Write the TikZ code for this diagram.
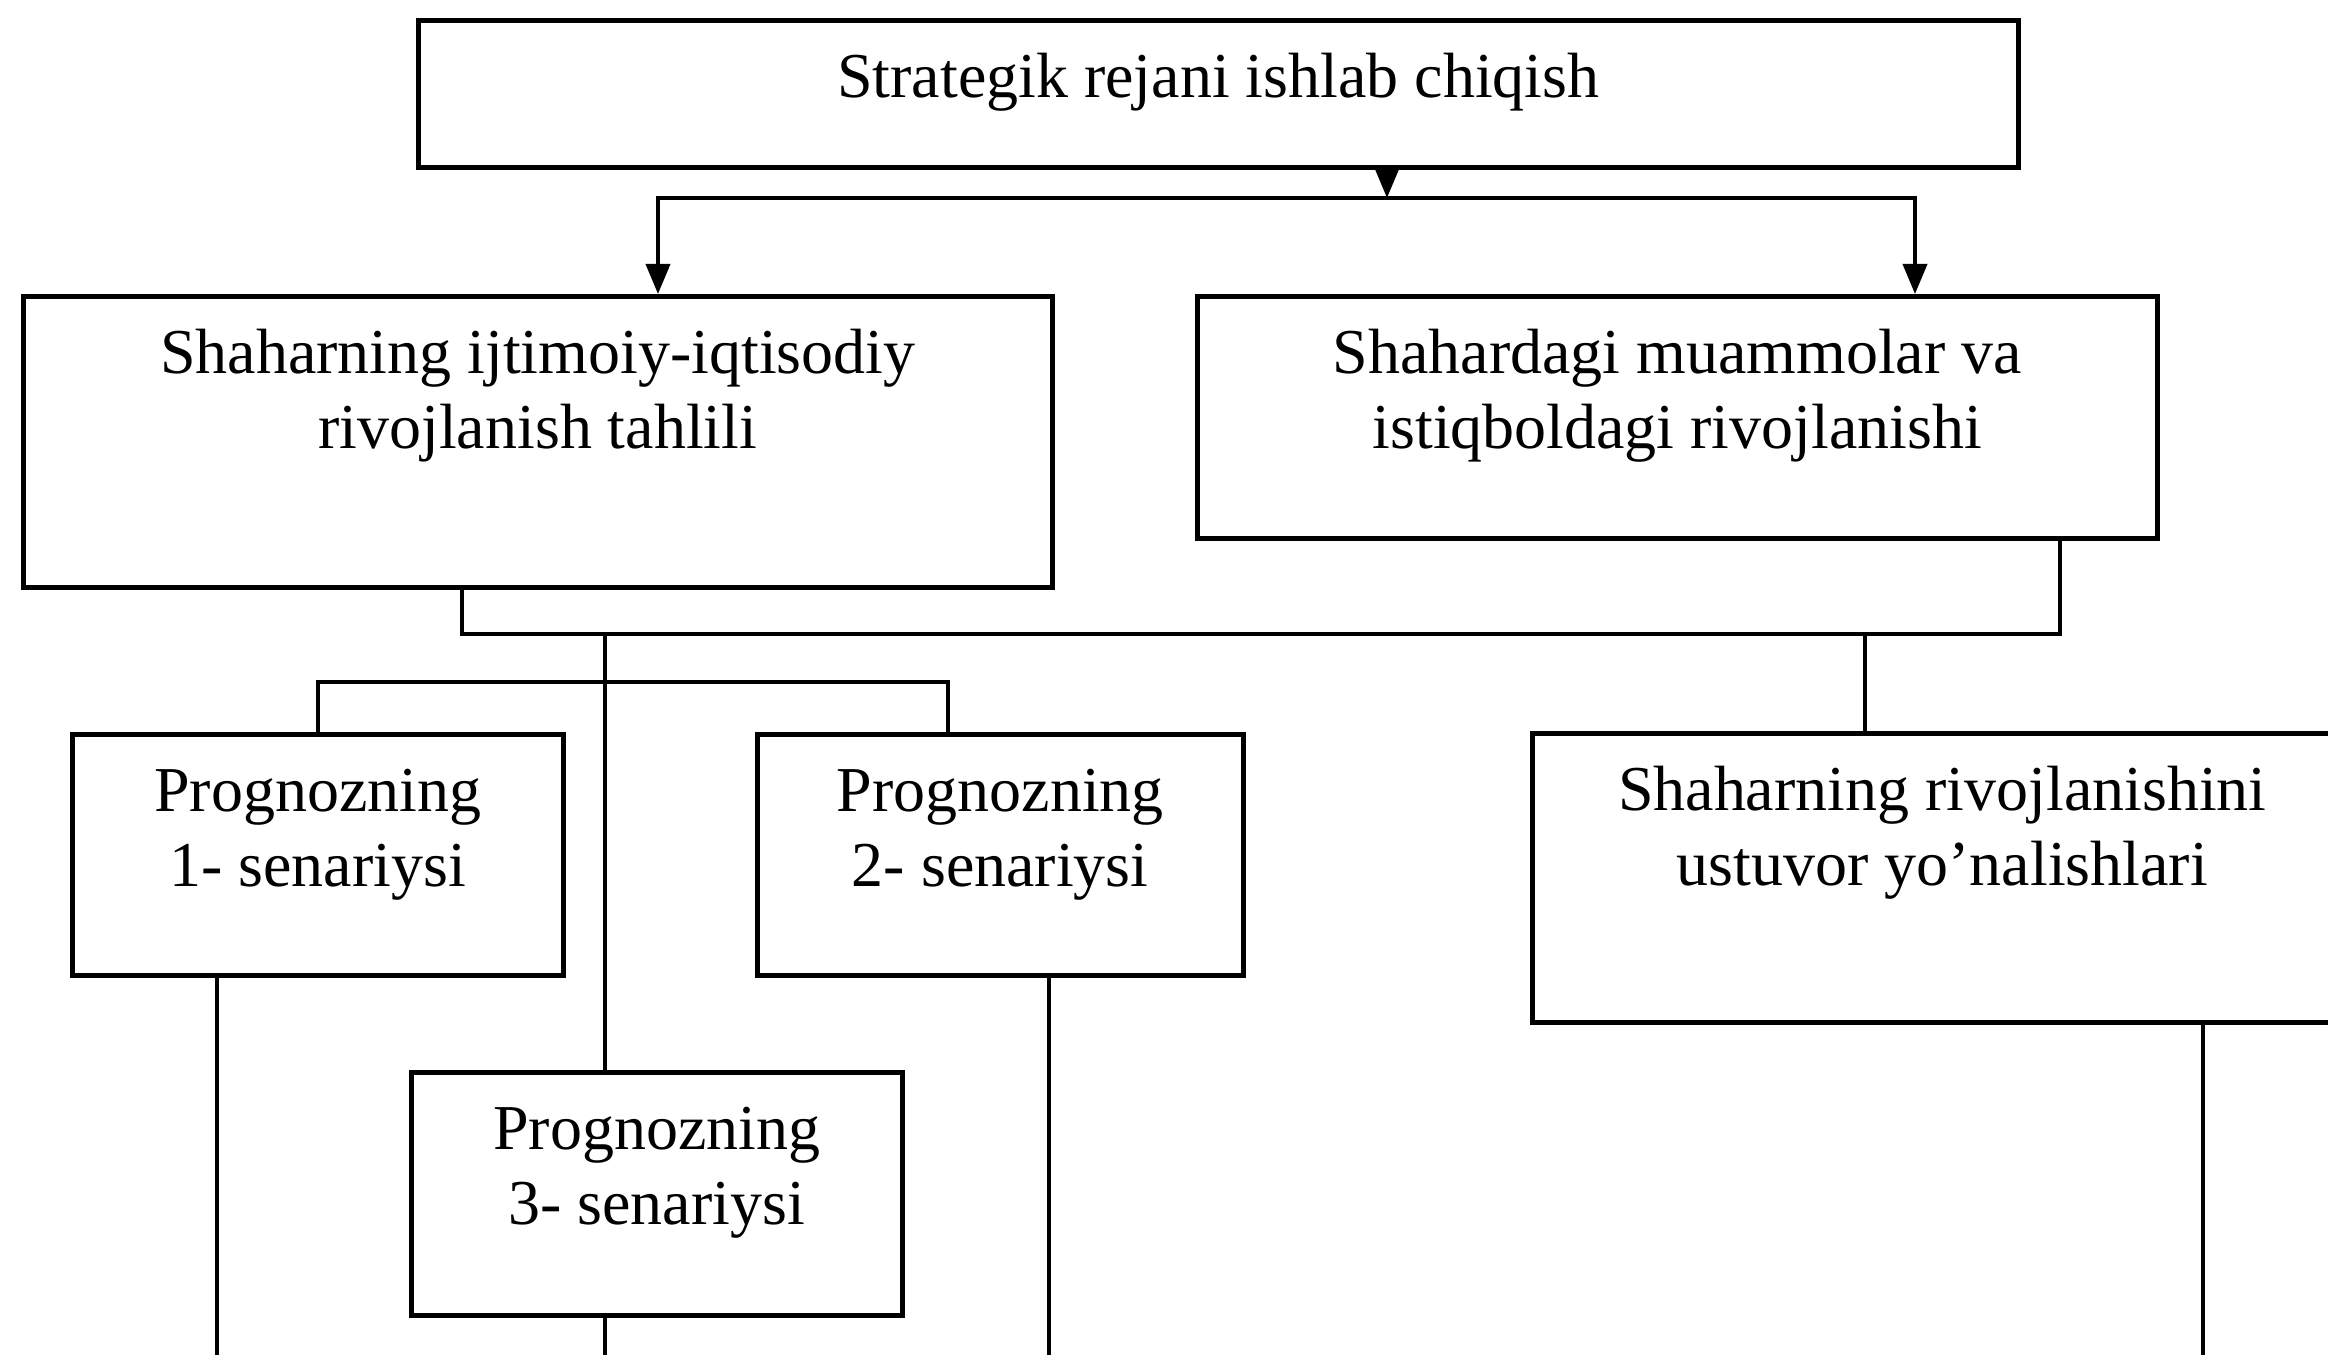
\documentclass[tikz,border=0pt]{standalone}
\usepackage{fontspec}
\setmainfont{Liberation Serif}
\usetikzlibrary{arrows.meta,positioning,calc}

\begin{document}
\begin{tikzpicture}[
    font=\fontsize{18.2}{21.3}\selectfont,
    box/.style={draw, line width=1.3pt, anchor=north west, inner sep=0pt},
    txt/.style={align=center, inner sep=0pt},
    line/.style={line width=1.1pt},
    arrow/.style={line width=1.1pt, -{Triangle[length=.3cm, width=.24cm]}}
  ]
    \clip (0,0) rectangle (23.28,-13.55);
    % boxes
    \node[box, minimum width=16cm, minimum height=1.47cm] (plan) at (4.16,-0.18) {};
    \node[box, minimum width=10.29cm, minimum height=2.91cm] (tahlil) at (0.21,-2.94) {};
    \node[box, minimum width=9.6cm, minimum height=2.42cm] (muammo) at (11.95,-2.94) {};
    \node[box, minimum width=4.91cm, minimum height=2.41cm] (sen1) at (0.70,-7.32) {};
    \node[box, minimum width=4.86cm, minimum height=2.41cm] (sen2) at (7.55,-7.32) {};
    \node[box, minimum width=4.91cm, minimum height=2.43cm] (sen3) at (4.09,-10.70) {};
    \node[box, minimum width=8.2cm, minimum height=2.89cm] (ustuvor) at (15.30,-7.31) {};
    % texts
    \node[txt, below=.265cm of plan.north] (planT) {\strut Strategik rejani ishlab chiqish};
    \node[txt, below=.265cm of tahlil.north] (tahlilT) {\strut Shaharning ijtimoiy-iqtisodiy\\\strut rivojlanish tahlili};
    \node[txt, below=.265cm of muammo.north] (muammoT) {\strut Shahardagi muammolar va\\\strut istiqboldagi rivojlanishi};
    \node[txt, below=.265cm of sen1.north] (sen1T) {\strut Prognozning\\\strut 1- senariysi};
    \node[txt, below=.265cm of sen2.north] (sen2T) {\strut Prognozning\\\strut 2- senariysi};
    \node[txt, below=.265cm of sen3.north] (sen3T) {\strut Prognozning\\\strut 3- senariysi};
    \node[txt, below=.265cm of ustuvor.north] (ustuvorT) {\strut Shaharning rivojlanishini\\\strut ustuvor yo’nalishlari};
    % connectors
    \coordinate (fork) at (13.87,-1.98);
    \coordinate (link) at (6.05,-6.34);
    \coordinate (split) at (9.48,-6.82);
    \draw[arrow] (plan.south -| fork) -- (fork);
    \draw[arrow] (fork) -| (tahlil.north -| 6.58,0);
    \draw[arrow] (fork) -| (muammo.north -| 19.15,0);
    \draw[line] (tahlil.south -| 4.62,0) |- (link) -- (link -| 20.60,0) -- (muammo.south -| 20.60,0);
    \draw[line] (link) -- (sen3.north -| link);
    \draw[line] (sen1.north) |- (split) -- (sen2.north -| split);
    \draw[line] (link -| 18.65,0) -- (ustuvor.north -| 18.65,0);
    % lines leaving the page
    \coordinate (end1) at (2.17,-13.7);
    \coordinate (end2) at (10.49,-13.7);
    \coordinate (end3) at (6.05,-13.7);
    \coordinate (end4) at (22.03,-13.7);
    \draw[line] (sen1.south -| end1) -- (end1);
    \draw[line] (sen2.south -| end2) -- (end2);
    \draw[line] (sen3.south -| end3) -- (end3);
    \draw[line] (ustuvor.south -| end4) -- (end4);
\end{tikzpicture}
\end{document}
